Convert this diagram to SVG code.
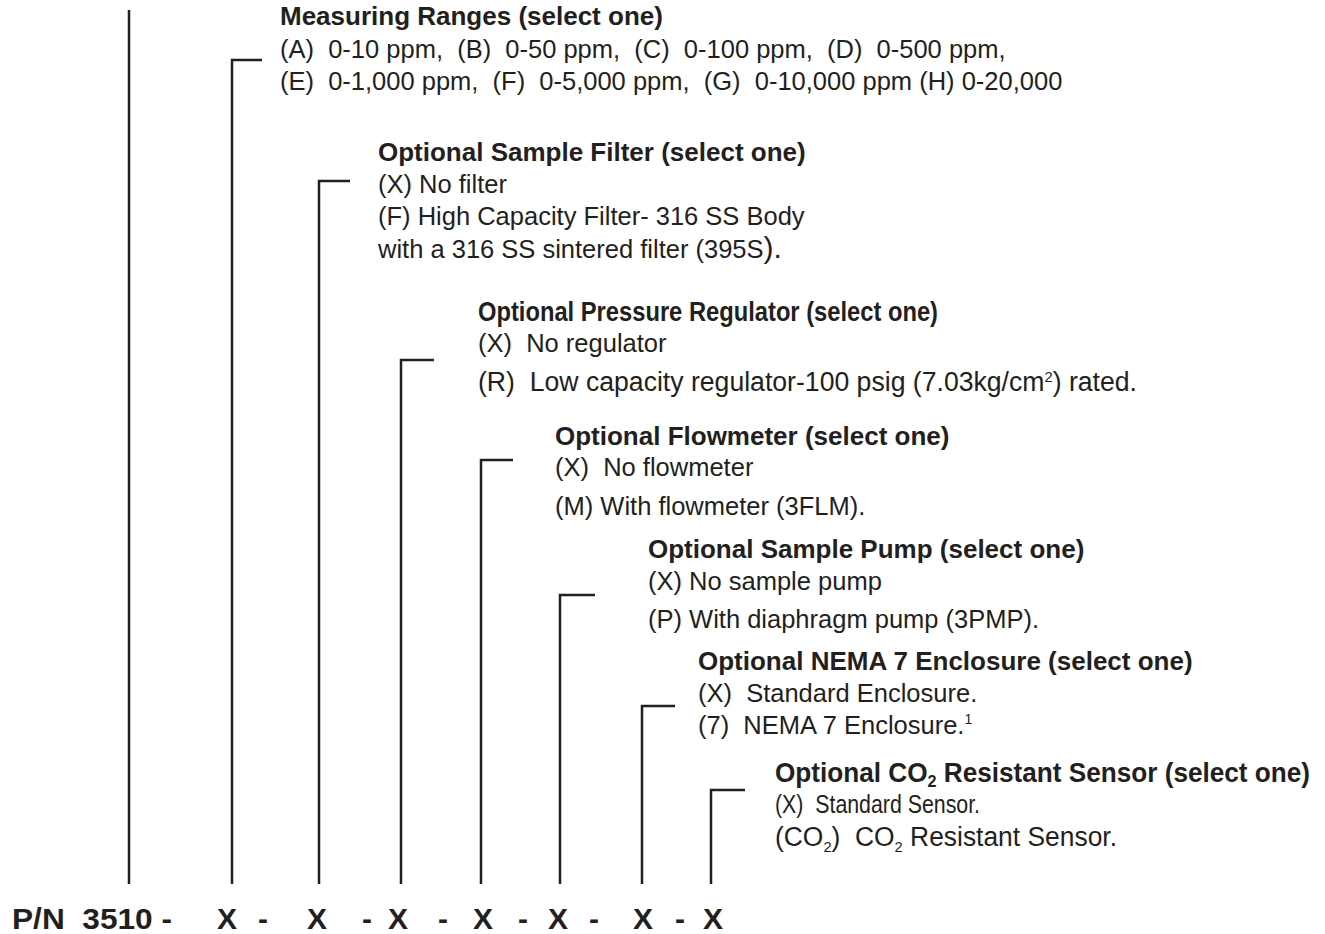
<svg xmlns="http://www.w3.org/2000/svg" width="1325" height="934" viewBox="0 0 1325 934">
<style>
text{font-family:"Liberation Sans",Arial,sans-serif;fill:#231f20}
.h{font-weight:bold;font-size:26px}
.t{font-size:25.5px}
.pn{font-weight:bold;font-size:30px}
.ln{stroke:#231f20;stroke-width:2.5;fill:none}
</style>
<rect width="1325" height="934" fill="#fff"/>
<g id="connectors">
<path class="ln" d="M129 10V884"/>
<path class="ln" d="M262 60H232V884"/>
<path class="ln" d="M350 181H319V884"/>
<path class="ln" d="M434 360H401V884"/>
<path class="ln" d="M513 460H481V884"/>
<path class="ln" d="M595 595H560V884"/>
<path class="ln" d="M675 706H642V884"/>
<path class="ln" d="M745 790H711V884"/>
</g>
<g id="ranges">
<text class="h" x="280" y="25">Measuring Ranges (select one)</text>
<text class="t" x="280" y="58" xml:space="preserve">(A)  0-10 ppm,  (B)  0-50 ppm,  (C)  0-100 ppm,  (D)  0-500 ppm,</text>
<text class="t" x="280" y="90" xml:space="preserve">(E)  0-1,000 ppm,  (F)  0-5,000 ppm,  (G)  0-10,000 ppm (H) 0-20,000</text>
</g>
<g id="filter">
<text class="h" x="378" y="161">Optional Sample Filter (select one)</text>
<text class="t" x="378" y="193">(X) No filter</text>
<text class="t" x="378" y="225">(F) High Capacity Filter- 316 SS Body</text>
<text class="t" x="378" y="258">with a 316 SS sintered filter (395S<tspan style="font-size:30px">).</tspan></text>
</g>
<g id="regulator">
<text class="h" x="478" y="321" style="font-size:27.5px" textLength="460" lengthAdjust="spacingAndGlyphs">Optional Pressure Regulator (select one)</text>
<text class="t" x="478" y="352" xml:space="preserve">(X)  No regulator</text>
<text class="t" x="478" y="391" style="font-size:27px" xml:space="preserve" textLength="659" lengthAdjust="spacingAndGlyphs">(R)  Low capacity regulator-100 psig (7.03kg/cm<tspan style="font-size:15px" dy="-9">2</tspan><tspan dy="9">) rated.</tspan></text>
</g>
<g id="flowmeter">
<text class="h" x="555" y="445">Optional Flowmeter (select one)</text>
<text class="t" x="555" y="476" xml:space="preserve">(X)  No flowmeter</text>
<text class="t" x="555" y="515">(M) With flowmeter (3FLM).</text>
</g>
<g id="pump">
<text class="h" x="648" y="558">Optional Sample Pump (select one)</text>
<text class="t" x="648" y="590">(X) No sample pump</text>
<text class="t" x="648" y="628">(P) With diaphragm pump (3PMP).</text>
</g>
<g id="enclosure">
<text class="h" x="698" y="670">Optional NEMA 7 Enclosure (select one)</text>
<text class="t" x="698" y="702" xml:space="preserve">(X)  Standard Enclosure.</text>
<text class="t" x="698" y="734" xml:space="preserve">(7)  NEMA 7 Enclosure.<tspan style="font-size:14px" dy="-10">1</tspan></text>
</g>
<g id="sensor">
<text class="h" x="775" y="782" style="font-size:27.5px" textLength="535" lengthAdjust="spacingAndGlyphs">Optional CO<tspan style="font-size:17px" dy="5">2</tspan><tspan dy="-5"> Resistant Sensor (select one)</tspan></text>
<text class="t" x="775" y="813" style="font-size:26.5px" xml:space="preserve" textLength="205" lengthAdjust="spacingAndGlyphs">(X)  Standard Sensor.</text>
<text class="t" x="775" y="846" style="font-size:27px" xml:space="preserve" textLength="342" lengthAdjust="spacingAndGlyphs">(CO<tspan style="font-size:15px" dy="6">2</tspan><tspan dy="-6">)  CO</tspan><tspan style="font-size:15px" dy="6">2</tspan><tspan dy="-6"> Resistant Sensor.</tspan></text>
</g>
<g id="partnumber">
<text class="pn" x="12" y="929" xml:space="preserve" textLength="160" lengthAdjust="spacingAndGlyphs">P/N  3510 -</text>
<text class="pn" x="217" y="929">X</text>
<text class="pn" x="258" y="929">-</text>
<text class="pn" x="307" y="929">X</text>
<text class="pn" x="362" y="929">-</text>
<text class="pn" x="388" y="929">X</text>
<text class="pn" x="438" y="929">-</text>
<text class="pn" x="473" y="929">X</text>
<text class="pn" x="518" y="929">-</text>
<text class="pn" x="548" y="929">X</text>
<text class="pn" x="589" y="929">-</text>
<text class="pn" x="633" y="929">X</text>
<text class="pn" x="675" y="929">-</text>
<text class="pn" x="703" y="929">X</text>
</g>
</svg>
